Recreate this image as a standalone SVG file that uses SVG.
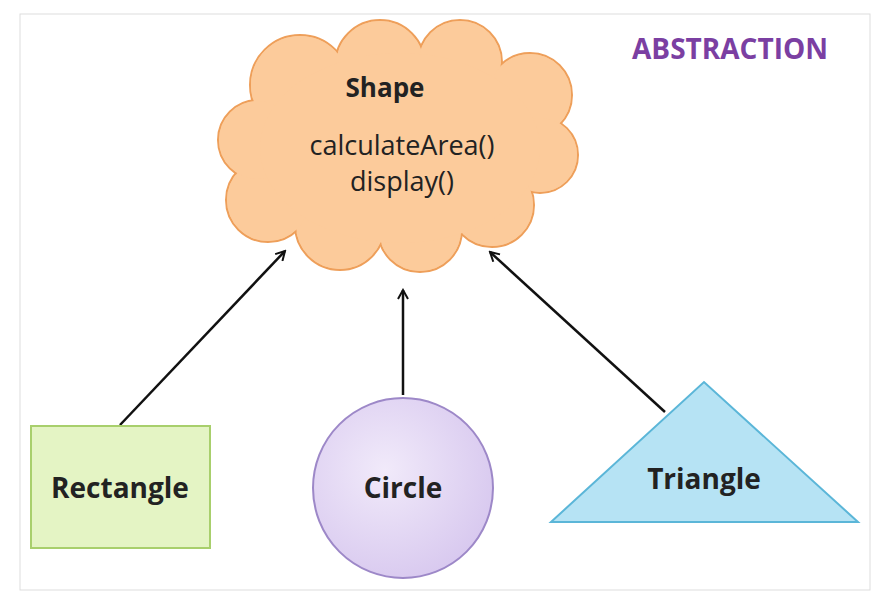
<svg xmlns="http://www.w3.org/2000/svg" width="890" height="610" viewBox="0 0 890 610">
<defs>
<style>
.t{font-family:"Open Sans","Liberation Sans",sans-serif;fill:#222}
.b{font-weight:bold}
.cs circle,.cs ellipse{fill:#FCCB9B;stroke:#EE9F5A;stroke-width:2}
.cf circle,.cf ellipse{fill:#FCCB9B}
</style>
<marker id="ah" viewBox="0 0 12 12" refX="10" refY="6" markerWidth="12" markerHeight="12" markerUnits="userSpaceOnUse" orient="auto"><path d="M1,1 L10,6 L1,11" fill="none" stroke="#111" stroke-width="2"/></marker>
<radialGradient id="cg" cx="0.4" cy="0.4" r="0.7"><stop offset="0" stop-color="#F1EAFA"/><stop offset="1" stop-color="#D6C6EE"/></radialGradient>
</defs>
<rect x="0" y="0" width="890" height="610" fill="#fff"/>
<rect x="20" y="14" width="850" height="576" fill="#fff" stroke="#ddd" stroke-width="1"/>
<text class="t b" x="730" y="59" font-size="28" text-anchor="middle" style="fill:#7B3FA2">ABSTRACTION</text>
<g id="shape">
<g class="cs">
<circle cx="300" cy="85" r="50"/><circle cx="380" cy="65" r="45"/><circle cx="460" cy="62" r="42"/><circle cx="530" cy="95" r="42"/><circle cx="540" cy="155" r="38"/><circle cx="492" cy="205" r="42"/><circle cx="420" cy="230" r="42"/><circle cx="340" cy="225" r="45"/><circle cx="268" cy="200" r="42"/><circle cx="258" cy="140" r="40"/>
</g>
<g class="cf">
<circle cx="300" cy="85" r="49"/><circle cx="380" cy="65" r="44"/><circle cx="460" cy="62" r="41"/><circle cx="530" cy="95" r="41"/><circle cx="540" cy="155" r="37"/><circle cx="492" cy="205" r="41"/><circle cx="420" cy="230" r="41"/><circle cx="340" cy="225" r="44"/><circle cx="268" cy="200" r="41"/><circle cx="258" cy="140" r="39"/><ellipse cx="400" cy="148" rx="140" ry="95"/>
</g>
<text class="t b" x="385" y="97" font-size="26" text-anchor="middle">Shape</text>
<text class="t" x="402" y="155" font-size="27" text-anchor="middle">calculateArea()</text>
<text class="t" x="402" y="191" font-size="27" text-anchor="middle">display()</text>
</g>
<g id="connectors" stroke="#111" stroke-width="2.5" fill="none">
<line x1="120" y1="425" x2="285" y2="251" marker-end="url(#ah)"/>
<line x1="403" y1="395" x2="403" y2="290" marker-end="url(#ah)"/>
<line x1="665" y1="412" x2="490" y2="252" marker-end="url(#ah)"/>
</g>
<g id="rectangle">
<rect x="31" y="426" width="179" height="122" fill="#E4F4C4" stroke="#A8CF6C" stroke-width="2"/>
<text class="t b" x="120" y="498" font-size="28" text-anchor="middle">Rectangle</text>
</g>
<g id="circle">
<circle cx="403" cy="488" r="90" fill="url(#cg)" stroke="#9D88C8" stroke-width="2"/>
<text class="t b" x="403" y="498" font-size="28" text-anchor="middle">Circle</text>
</g>
<g id="triangle">
<polygon points="551,522 858,522 704,382" fill="#B6E3F4" stroke="#5BB6D8" stroke-width="2"/>
<text class="t b" x="704" y="489" font-size="28" text-anchor="middle">Triangle</text>
</g>
</svg>
